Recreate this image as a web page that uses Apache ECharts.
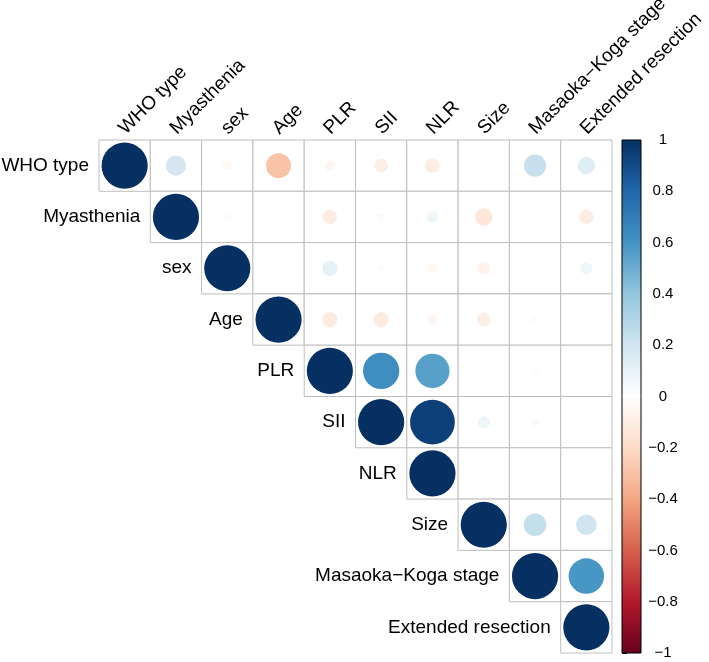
<!DOCTYPE html>
<html>
<head>
<meta charset="utf-8">
<script src="https://cdn.jsdelivr.net/npm/echarts@6/dist/echarts.min.js"></script>
<style>
  html, body { margin: 0; padding: 0; background: #fff; }
  #chart { width: 709px; height: 662px; }
</style>
</head>
<body>
<div id="chart"></div>
<script>
// variables, in plot order
var variables = ['WHO type', 'Myasthenia', 'sex', 'Age', 'PLR', 'SII', 'NLR', 'Size', 'Masaoka\u2212Koga stage', 'Extended resection'];

// upper triangle rows, starting at the diagonal
var rowWHO = [1, 0.19, -0.04, -0.29, -0.05, -0.09, -0.10, 0.01, 0.23, 0.14];
var rowMyasthenia = [1, -0.02, 0.005, -0.10, 0.03, 0.065, -0.14, -0.015, -0.10];
var rowSex = [1, 0.01, 0.11, 0.02, -0.045, -0.075, 0.0, 0.07];
var rowAge = [1, -0.11, -0.11, -0.05, -0.09, -0.025, 0.015];
var rowPLR = [1, 0.62, 0.55, 0.0, -0.02, 0.01];
var rowSII = [1, 0.94, 0.07, 0.03, 0.0];
var rowNLR = [1, 0.012, 0.018, 0.01];
var rowSize = [1, 0.24, 0.20];
var rowMasaoka = [1, 0.59];
var rowExtended = [1];

// colour bar ticks
var barTicks = [-1, -0.8, -0.6, -0.4, -0.2, 0, 0.2, 0.4, 0.6, 0.8, 1];

// RdBu from -1 to 1
var palette = ['#67001F', '#B2182B', '#D6604D', '#F4A582', '#FDDBC7', '#FFFFFF', '#D1E5F0', '#92C5DE', '#4393C3', '#2166AC', '#053061'];

var rows = [rowWHO, rowMyasthenia, rowSex, rowAge, rowPLR, rowSII, rowNLR, rowSize, rowMasaoka, rowExtended];

var cells = [];
var circles = [];
var diag = [];
rows.forEach(function(row, i) {
    row.forEach(function(v, k) {
        var j = i + k;
        cells.push([j, i]);
        circles.push([j, i, v]);
    });
    diag.push([i, i]);
});

var gridCol = '#bebebe';
var font = 'Liberation Sans, Arial, sans-serif';
var labelSize = 19;

var chart = echarts.init(document.getElementById('chart'), null, { renderer: 'canvas' });

var option = {
    backgroundColor: '#fff',
    animation: false,
    grid: [
        { left: 99, top: 140, width: 513, height: 513 },
        { left: 622, top: 140, width: 19, height: 513 }
    ],
    xAxis: [{
        type: 'category',
        data: variables,
        gridIndex: 0,
        show: false
    }, {
        type: 'value',
        gridIndex: 1,
        min: 0,
        max: 1,
        show: false
    }],
    yAxis: [{
        type: 'category',
        data: variables,
        inverse: true,
        gridIndex: 0,
        show: false
    }, {
        type: 'value',
        gridIndex: 1,
        min: -1,
        max: 1,
        interval: 0.2,
        position: 'right',
        axisLine: { show: false },
        splitLine: { show: false },
        axisTick: { show: true, length: 5, lineStyle: { color: '#000', width: 1 } },
        axisLabel: {
            margin: 22,
            align: 'center',
            color: '#000',
            fontSize: 15,
            fontFamily: font,
            formatter: function(v) {
                var t = barTicks.reduce(function(a, b) { return Math.abs(b - v) < Math.abs(a - v) ? b : a; });
                return String(t).replace('-', '\u2212');
            }
        }
    }],
    visualMap: {
        show: false,
        type: 'continuous',
        min: -1,
        max: 1,
        dimension: 2,
        seriesIndex: 1,
        inRange: { color: palette }
    },
    series: [{
        // cell borders
        type: 'custom',
        xAxisIndex: 0,
        yAxisIndex: 0,
        data: cells,
        silent: true,
        renderItem: function(params, api) {
            var c = api.coord([api.value(0), api.value(1)]);
            var s = api.size([1, 1]);
            return {
                type: 'rect',
                shape: { x: c[0] - s[0] / 2, y: c[1] - s[1] / 2, width: s[0], height: s[1] },
                style: { fill: '#fff', stroke: gridCol, lineWidth: 1 }
            };
        }
    }, {
        // correlation circles
        type: 'custom',
        xAxisIndex: 0,
        yAxisIndex: 0,
        data: circles,
        silent: true,
        z: 3,
        renderItem: function(params, api) {
            var c = api.coord([api.value(0), api.value(1)]);
            var s = api.size([1, 1]);
            var r = 0.45 * s[0] * Math.sqrt(Math.abs(api.value(2)));
            return {
                type: 'circle',
                shape: { cx: c[0], cy: c[1], r: r },
                style: { fill: api.visual('color') }
            };
        }
    }, {
        // row labels next to the diagonal, column labels above the top row
        type: 'custom',
        xAxisIndex: 0,
        yAxisIndex: 0,
        data: diag,
        silent: true,
        z: 4,
        renderItem: function(params, api) {
            var i = api.value(0);
            var c = api.coord([i, i]);
            var top = api.coord([i, 0]);
            var s = api.size([1, 1]);
            return {
                type: 'group',
                children: [{
                    type: 'text',
                    x: c[0] - s[0] / 2 - 10,
                    y: c[1],
                    style: {
                        text: variables[i],
                        align: 'right',
                        verticalAlign: 'middle',
                        fill: '#000',
                        fontSize: labelSize,
                        fontFamily: font
                    }
                }, {
                    type: 'text',
                    x: top[0] + 4,
                    y: top[1] - s[1] / 2 - 2,
                    rotation: Math.PI / 4,
                    style: {
                        text: variables[i],
                        align: 'left',
                        verticalAlign: 'bottom',
                        fill: '#000',
                        fontSize: labelSize,
                        fontFamily: font
                    }
                }]
            };
        }
    }, {
        // colour bar
        type: 'custom',
        xAxisIndex: 1,
        yAxisIndex: 1,
        data: [[0, 1, 1, -1]],
        silent: true,
        renderItem: function(params, api) {
            var p0 = api.coord([api.value(0), api.value(1)]);
            var p1 = api.coord([api.value(2), api.value(3)]);
            var stops = palette.slice().reverse().map(function(col, i) {
                return { offset: i / (palette.length - 1), color: col };
            });
            return {
                type: 'rect',
                shape: { x: p0[0], y: p0[1], width: p1[0] - p0[0], height: p1[1] - p0[1] },
                style: {
                    fill: new echarts.graphic.LinearGradient(0, 0, 0, 1, stops),
                    stroke: '#000',
                    lineWidth: 1
                }
            };
        }
    }]
};

chart.setOption(option);
window.addEventListener('resize', function() {
    chart.resize();
});
</script>
</body>
</html>
